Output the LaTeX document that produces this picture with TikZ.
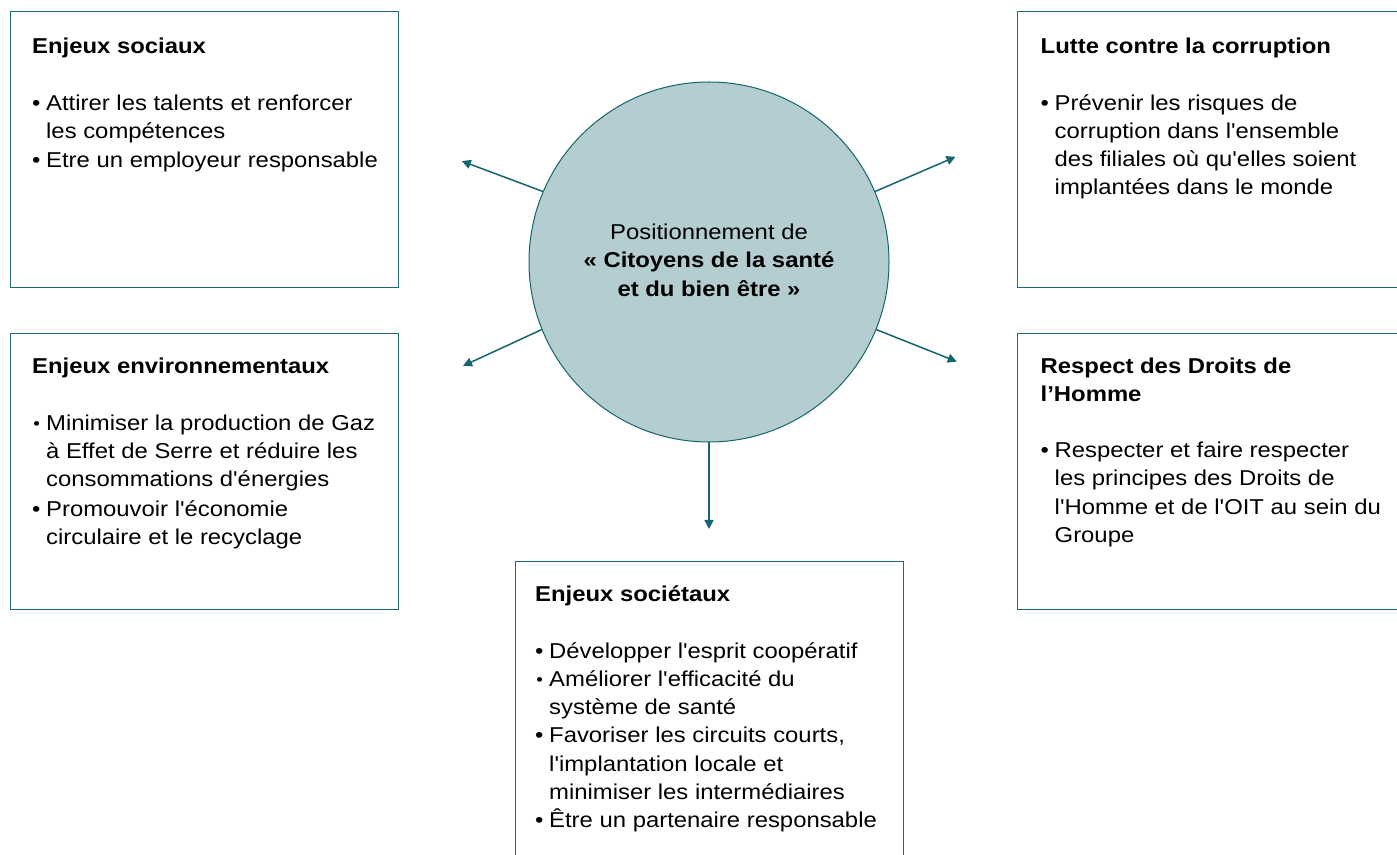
\documentclass[tikz,border=0pt]{standalone}
\usepackage{fontspec}
\setmainfont[FakeStretch=1.11, Ligatures=TeXOff]{Liberation Sans}
\usetikzlibrary{arrows.meta}
\definecolor{tealarrow}{RGB}{22,101,110}
\definecolor{circfill}{RGB}{179,205,208}
\definecolor{boxline}{RGB}{30,105,115}
\newcommand\bodyfont{\fontsize{21.5}{28.1}\selectfont}
\newlength\bulw \setlength\bulw{14pt}
\newcommand\bul[1]{\par\hangindent=\bulw\hangafter=1\noindent\makebox[\bulw][l]{•}#1\par}
\newcommand\sbul[1]{\par\hangindent=\bulw\hangafter=1\noindent\makebox[\bulw][l]{\hspace{1.2pt}\raisebox{0.8pt}{\fontsize{17}{17}\selectfont •}}#1\par}
\newcommand\ttl[1]{\par\noindent\textbf{#1}\par\vskip 28.9pt}
\newcommand\gap{\vskip1.5pt}
\newcommand\blk[1]{\vtop{\hsize=380pt\parindent=0pt\parskip=0pt\bodyfont #1}}
\tikzset{
  x=1pt, y=1pt,
  box/.style={draw=boxline, line width=1pt, fill=white, inner sep=0pt, anchor=north west},
  txt/.style={inner sep=0pt, anchor=base west},
  arr/.style={draw=tealarrow, line width=1.5pt, -{Triangle[length=9pt,width=9pt]}},
}
\begin{document}
\begin{tikzpicture}
\useasboundingbox (0,0) rectangle (1397,854);
\clip (0,0) rectangle (1397,854);
% boxes
\node[box, minimum width=388pt, minimum height=276pt] (b1) at (10,843) {};
\node[box, minimum width=400pt, minimum height=276pt] (b2) at (1017,843) {};
\node[box, minimum width=388pt, minimum height=276pt] (b3) at (10,521) {};
\node[box, minimum width=400pt, minimum height=276pt] (b4) at (1017,521) {};
\node[box, minimum width=388pt, minimum height=310pt] (b5) at (515,293) {};
% circle
\node[circle, draw=tealarrow, line width=1pt, fill=circfill, minimum size=360pt, inner sep=0pt] (c) at (709,592) {};
% arrows
\path (c.center) ++(157.8:267) coordinate (t1);
\path (c.center) ++(23.1:268) coordinate (t2);
\path (c.center) ++(202.9:267) coordinate (t3);
\path (c.center) ++(338.1:267) coordinate (t4);
\path (c.center) ++(270:267) coordinate (t5);
\draw[arr] (c.157.8) -- (t1);
\draw[arr] (c.23.1) -- (t2);
\draw[arr] (c.202.9) -- (t3);
\draw[arr] (c.338.1) -- (t4);
\draw[arr] (c.270) -- (t5);
% circle text
\node[inner sep=0pt, anchor=base] (ctext) at (709,614.7) {\vtop{\hsize=340pt\centering\fontsize{21.5}{28.6}\selectfont Positionnement de\par\textbf{«~Citoyens de la santé}\par\textbf{et du bien être~»}\par}};
% box texts
\node[txt] (x1) at (32,800.7) {\blk{\ttl{Enjeux sociaux}%
\bul{Attirer les talents et renforcer\newline les compétences}\gap
\bul{Etre un employeur responsable}}};
\node[txt] (x2) at (1040.5,800.7) {\blk{\ttl{Lutte contre la corruption}%
\bul{Prévenir les risques de\newline corruption dans l'ensemble\newline des filiales où qu'elles soient\newline implantées dans le monde}}};
\node[txt] (x3) at (32,480.7) {\blk{\ttl{Enjeux environnementaux}%
\sbul{Minimiser la production de Gaz\newline à Effet de Serre et réduire les\newline consommations d'énergies}\gap
\bul{Promouvoir l'économie\newline circulaire et le recyclage}}};
\node[txt] (x4) at (1040.5,480.7) {\blk{\par\noindent\textbf{Respect des Droits de\newline l’Homme}\par\vskip 28.4pt
\bul{Respecter et faire respecter\newline les principes des Droits de\newline l'Homme et de l'OIT au sein du\newline Groupe}}};
\node[txt] (x5) at (535,252.3) {\blk{\ttl{Enjeux sociétaux}%
\bul{Développer l'esprit coopératif}
\sbul{Améliorer l'efficacité du\newline système de santé}
\bul{Favoriser les circuits courts,\newline l'implantation locale et\newline minimiser les intermédiaires}
\bul{Être un partenaire responsable}}};
\end{tikzpicture}
\end{document}
